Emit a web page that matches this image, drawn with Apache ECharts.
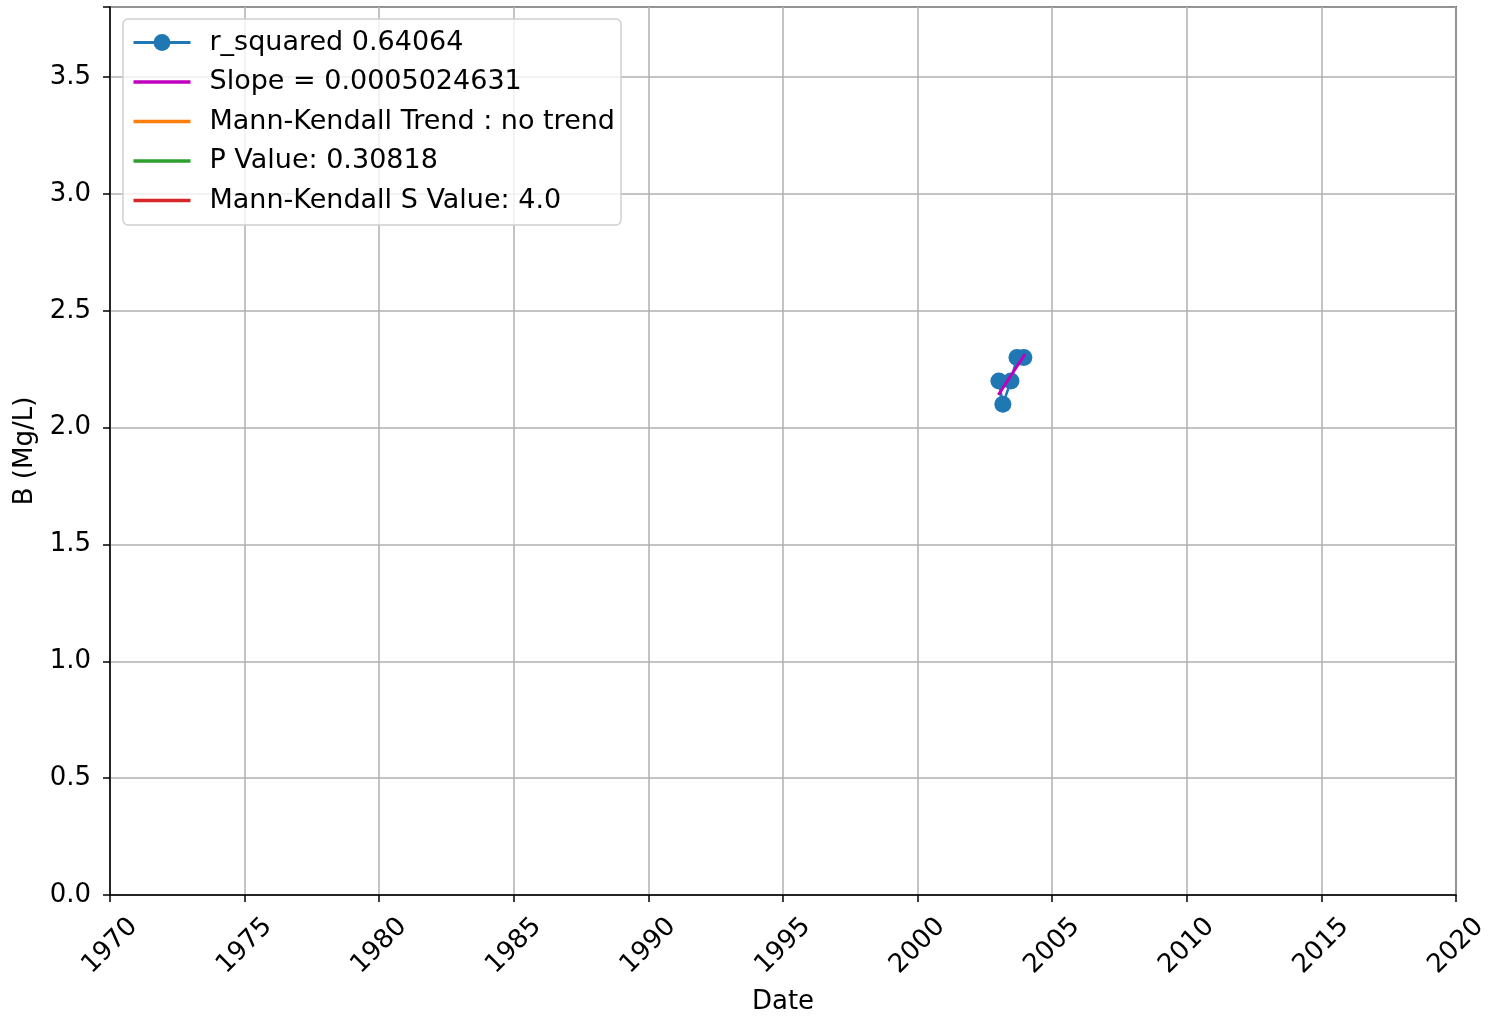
<!DOCTYPE html>
<html>
<head>
<meta charset="utf-8">
<script src="https://cdn.jsdelivr.net/npm/echarts@6/dist/echarts.min.js"></script>
<style>html,body{margin:0;padding:0;background:#fff}#c{width:1492px;height:1018px}</style>
</head>
<body>
<div id="c"></div>
<script>
// ---- data ----
var sampleDates = ['2003-01-08', '2003-03-03', '2003-06-21', '2003-09-10', '2003-12-13'];
var sampleValues = [2.2, 2.1, 2.2, 2.3, 2.3];
var trendDates = ['2003-01-01', '2003-12-28'];
var trendValues = [2.14, 2.315];
var legendLabels = ['r_squared 0.64064', 'Slope = 0.0005024631', 'Mann-Kendall Trend : no trend', 'P Value: 0.30818', 'Mann-Kendall S Value: 4.0'];
var seriesColors = ['#1f77b4', '#bf00bf', '#ff7f0e', '#2ca02c', '#d62728'];
var xTickMin = 1970, xTickMax = 2020, xTickStep = 5;
var yMin = 0, yMax = 3.8, yStep = 0.5;

function decYear(s) {
  var p = s.split('-').map(Number);
  var t0 = Date.UTC(p[0], 0, 1), t1 = Date.UTC(p[0] + 1, 0, 1);
  return p[0] + (Date.UTC(p[0], p[1] - 1, p[2]) - t0) / (t1 - t0);
}
var FONT = 'DejaVu Sans';
var FS = 26;
var LFS = 27;
var LINE_ICON = 'path://M0,0H57V3.4H0Z';
var chart = echarts.init(document.getElementById('c'), null, {renderer: 'canvas'});
var series = [
  {
    name: legendLabels[0], type: 'line', symbol: 'circle', symbolSize: 17, showSymbol: true,
    data: sampleDates.map(function (d, i) { return [decYear(d), sampleValues[i]]; }),
    lineStyle: {color: seriesColors[0], width: 2.5}, itemStyle: {color: seriesColors[0]}, z: 2, animation: false
  },
  {
    name: legendLabels[1], type: 'line', symbol: 'none',
    data: trendDates.map(function (d, i) { return [decYear(d), trendValues[i]]; }),
    lineStyle: {color: seriesColors[1], width: 3}, itemStyle: {color: seriesColors[1]}, z: 3, animation: false
  }
];
for (var k = 2; k < 5; k++) {
  series.push({name: legendLabels[k], type: 'line', symbol: 'none', data: [],
    lineStyle: {color: seriesColors[k], width: 3}, itemStyle: {color: seriesColors[k]}});
}
chart.setOption({
  animation: false,
  backgroundColor: '#fff',
  textStyle: {fontFamily: FONT},
  grid: {left: 110, right: 36, top: 7, bottom: 123, show: true, borderColor: '#000', borderWidth: 1.5,
    backgroundColor: 'transparent', containLabel: false, outerBoundsMode: 'none'},
  legend: {
    orient: 'vertical', left: 123, top: 19,
    itemWidth: 57, itemHeight: 21, itemGap: 12.5,
    padding: [10, 6, 11, 9],
    backgroundColor: 'rgba(255,255,255,0.8)', borderColor: '#d0d0d0', borderWidth: 1.5, borderRadius: 5,
    lineStyle: {width: 3},
    textStyle: {fontFamily: FONT, fontSize: LFS, color: '#000', padding: [0, 0, 0, 14]},
    data: legendLabels.map(function (n, i) {
      return i === 0 ? {name: n, lineStyle: {width: 3}} : {name: n, icon: LINE_ICON};
    })
  },
  xAxis: {
    type: 'value', min: xTickMin, max: xTickMax, interval: xTickStep,
    name: 'Date', nameLocation: 'middle', nameGap: 94,
    nameTextStyle: {fontFamily: FONT, fontSize: FS, color: '#000'},
    axisLine: {show: true, lineStyle: {color: '#000', width: 1.5}},
    axisTick: {show: true, length: 7, lineStyle: {color: '#000', width: 1.5}},
    axisLabel: {rotate: 45, align: 'center', verticalAlign: 'middle', margin: 51, fontFamily: FONT, fontSize: FS, color: '#000',
      formatter: function (v) { return String(Math.round(v)); }},
    splitLine: {show: true, lineStyle: {color: '#b0b0b0', width: 1.5}}
  },
  yAxis: {
    type: 'value', min: yMin, max: yMax, interval: yStep,
    name: 'B (Mg/L)', nameLocation: 'middle', nameGap: 72, nameRotate: 90,
    nameTextStyle: {fontFamily: FONT, fontSize: FS, color: '#000'},
    axisLine: {show: true, lineStyle: {color: '#000', width: 1.5}},
    axisTick: {show: true, length: 7, lineStyle: {color: '#000', width: 1.5}},
    axisLabel: {margin: 19, fontFamily: FONT, fontSize: FS, color: '#000',
      formatter: function (v) { var r = Math.round(v / yStep) * yStep; return Math.abs(r - v) < 1e-9 ? v.toFixed(1) : ''; }},
    splitLine: {show: true, lineStyle: {color: '#b0b0b0', width: 1.5}}
  },
  series: series
});
</script>
</body>
</html>
